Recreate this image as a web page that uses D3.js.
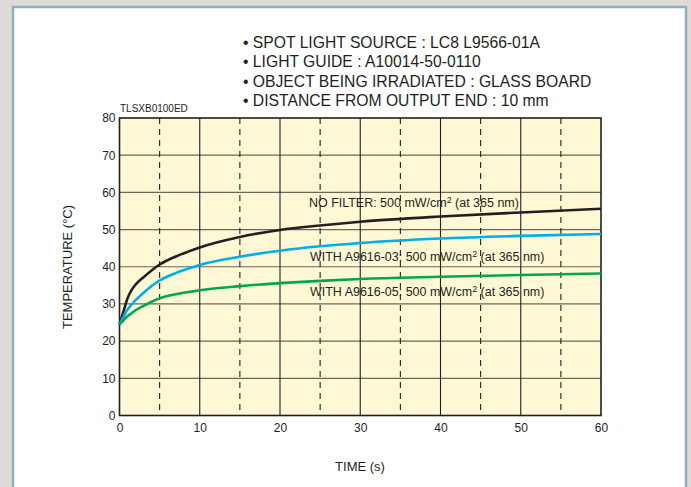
<!DOCTYPE html>
<html><head><meta charset="utf-8">
<script src="https://cdn.jsdelivr.net/npm/d3@7"></script>
<style>
html,body{margin:0;padding:0;background:#dfdbd7;}
svg{display:block;font-family:"Liberation Sans",Arial,sans-serif;}
</style></head>
<body>
<svg id="chart" width="691" height="487"></svg>
<script>
// ---- data ----
const times = [0,0.5,1,1.5,2,3,4,5,7.5,10,15,20,25,30,40,50,60];
const noFilter = [24.5,28,31.5,33.7,35.2,37.2,39,40.6,43.2,45.2,48,49.9,51.1,52.1,53.5,54.6,55.6];
const a9616_03 = [24.5,26.6,28.5,29.8,31,33,34.8,36.3,38.7,40.5,42.7,44.3,45.5,46.4,47.6,48.3,48.8];
const a9616_05 = [24.5,25.6,26.7,27.5,28.3,29.5,30.6,31.5,32.8,33.7,34.8,35.6,36.2,36.7,37.3,37.8,38.2];
const seriesNames = ["NO FILTER", "WITH A9616-03", "WITH A9616-05"];
const seriesColors = ["#231f20", "#00aeef", "#00a651"];
const xTicks = [0,10,20,30,40,50,60];
const xDashed = [5,15,25,35,45,55];
const yTicks = [0,10,20,30,40,50,60,70,80];
const notes = ["• SPOT LIGHT SOURCE : LC8 L9566-01A","• LIGHT GUIDE : A10014-50-0110","• OBJECT BEING IRRADIATED : GLASS BOARD","• DISTANCE FROM OUTPUT END : 10 mm"];
const codeLabel = "TLSXB0100ED";
const xTitle = "TIME (s)";
const yTitle = "TEMPERATURE (°C)";

const svg = d3.select("#chart");
// panel
svg.append("rect").attr("x",13).attr("y",7).attr("width",673).attr("height",500)
  .attr("fill","#fff").attr("stroke","#8bb0bf").attr("stroke-width",2.5);

const L=119.5, R=601, T=118, B=415.5;
const x = d3.scaleLinear().domain([0,60]).range([L,R]);
const y = d3.scaleLinear().domain([0,80]).range([B,T]);

svg.append("rect").attr("x",L).attr("y",T).attr("width",R-L).attr("height",B-T).attr("fill","#fef8d5");

// horizontal grid
svg.append("g").selectAll("line").data(yTicks.slice(1,-1)).join("line")
  .attr("x1",L).attr("x2",R).attr("y1",d=>y(d)).attr("y2",d=>y(d))
  .attr("stroke","#6b665c").attr("stroke-width",1.2);
// vertical grid solid
svg.append("g").selectAll("line").data(xTicks.slice(1,-1)).join("line")
  .attr("x1",d=>x(d)).attr("x2",d=>x(d)).attr("y1",T).attr("y2",B)
  .attr("stroke","#231f20").attr("stroke-width",1.1);
// vertical dashed
svg.append("g").selectAll("line").data(xDashed).join("line")
  .attr("x1",d=>x(d)).attr("x2",d=>x(d)).attr("y1",T).attr("y2",B)
  .attr("stroke","#231f20").attr("stroke-width",1.1).attr("stroke-dasharray","6,5");

// frame
svg.append("rect").attr("x",L).attr("y",T).attr("width",R-L).attr("height",B-T)
  .attr("fill","none").attr("stroke","#231f20").attr("stroke-width",1.6);

// axes labels via d3 axes
const xAxis = svg.append("g").attr("transform",`translate(0,${B})`)
  .call(d3.axisBottom(x).tickValues(xTicks).tickSize(0).tickPadding(8));
xAxis.select(".domain").remove();
xAxis.selectAll("text").attr("font-size",12).attr("fill","#231f20").attr("font-family","Liberation Sans, Arial, sans-serif");
const yAxis = svg.append("g").attr("transform",`translate(${L},0)`)
  .call(d3.axisLeft(y).tickValues(yTicks).tickSize(0).tickPadding(4));
yAxis.select(".domain").remove();
yAxis.selectAll("text").attr("font-size",12).attr("fill","#231f20").attr("font-family","Liberation Sans, Arial, sans-serif");

// curves
const line = d3.line().x(d=>x(d[0])).y(d=>y(d[1])).curve(d3.curveMonotoneX);
[noFilter,a9616_03,a9616_05].forEach((vals,i)=>{
  svg.append("path").datum(times.map((t,j)=>[t,vals[j]]))
    .attr("d",line).attr("fill","none").attr("stroke",seriesColors[i]).attr("stroke-width",2.6);
});

// series labels
const labelPos = [[309,207],[310,261],[310,295.5]];
const labels = seriesNames.map((n,i)=>{
  const t = svg.append("text").attr("x",labelPos[i][0]).attr("y",labelPos[i][1])
    .attr("font-size",12).attr("fill","#231f20");
  t.append("tspan").attr("class","m").text(n+": 500 mW/cm");
  t.append("tspan").attr("class","s").attr("dy",-4).text("2");
  t.append("tspan").attr("class","m").attr("dy",4).text(" (at 365 nm)");
  return t;
});
// fit font size so first label width ~212px
const w0 = labels[0].node().getComputedTextLength();
const fs = Math.max(10, Math.min(13, 12*212/w0));
labels.forEach(t=>{
  t.attr("font-size",fs);
  t.selectAll("tspan.s").attr("font-size",fs*0.72);
});

// notes
svg.append("g").selectAll("text").data(notes).join("text")
  .attr("x",243).attr("y",(d,i)=>47.5+i*19.6).attr("font-size",15.7).attr("fill","#231f20").text(d=>d);

svg.append("text").attr("x",120).attr("y",112).attr("font-size",10).attr("fill","#231f20").text(codeLabel);
svg.append("text").attr("x",360).attr("y",471).attr("text-anchor","middle").attr("font-size",13).attr("fill","#231f20").text(xTitle);
svg.append("text").attr("transform","translate(72,267) rotate(-90)").attr("text-anchor","middle")
  .attr("font-size",13).attr("fill","#231f20").text(yTitle);
</script>
</body></html>
